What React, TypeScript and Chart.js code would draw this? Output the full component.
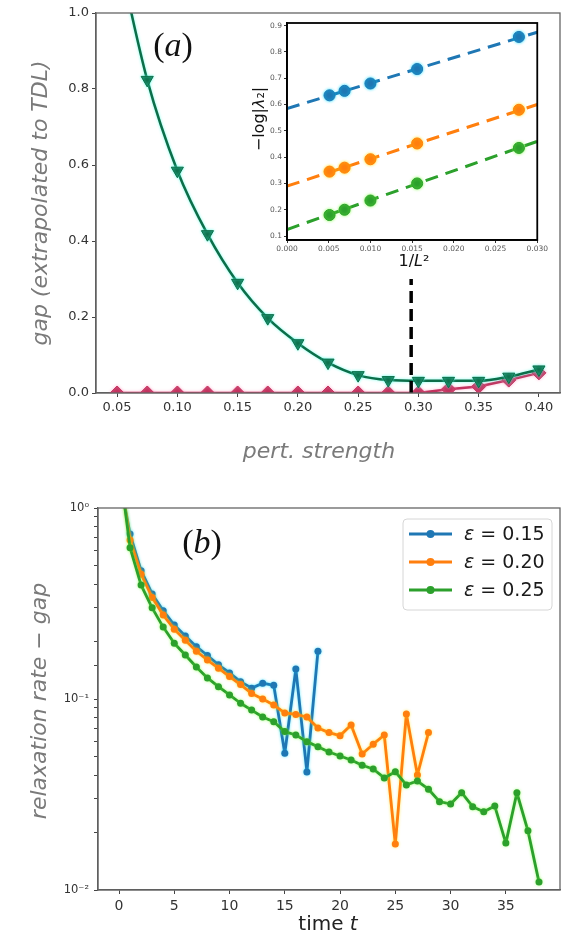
import React, { useEffect, useRef } from 'react';
import { Chart, registerables } from 'chart.js';

Chart.register(...registerables);

// ---------------- Panel (a) data ----------------
const pertStrength = [0.05, 0.075, 0.1, 0.125, 0.15, 0.175, 0.2, 0.225, 0.25, 0.275, 0.3, 0.325, 0.35, 0.375, 0.4];
const gapTriangles = [1.17, 0.824, 0.585, 0.418, 0.29, 0.197, 0.131, 0.08, 0.047, 0.034, 0.032, 0.032, 0.032, 0.043, 0.062];
const gapDiamonds = [0, 0, 0, 0, 0, 0, 0, 0, 0, 0, 0, 0.01, 0.017, 0.034, 0.053];
const criticalX = [0.294, 0.294];
const criticalY = [0, 0.3];

// ---------------- Inset data ----------------
const invL2 = [0.0051, 0.0069, 0.01, 0.0156, 0.0278];
const insetBlue = [0.635, 0.652, 0.68, 0.735, 0.857];
const insetOrange = [0.345, 0.36, 0.392, 0.452, 0.58];
const insetGreen = [0.18, 0.2, 0.235, 0.3, 0.435];
const fitX = [0, 0.03];
const fitBlue = [0.585, 0.875];
const fitOrange = [0.29, 0.6];
const fitGreen = [0.125, 0.46];

// ---------------- Panel (b) data ----------------
const timeSteps = [0, 1, 2, 3, 4, 5, 6, 7, 8, 9, 10, 11, 12, 13, 14, 15, 16, 17, 18, 19, 20, 21, 22, 23, 24, 25, 26, 27, 28, 29, 30, 31, 32, 33, 34, 35, 36, 37, 38];
const eps015 = [1.5, 0.73, 0.47, 0.355, 0.29, 0.244, 0.214, 0.188, 0.169, 0.151, 0.137, 0.123, 0.114, 0.121, 0.118, 0.052, 0.1435, 0.0415, 0.178];
const eps020 = [1.6, 0.68, 0.45, 0.34, 0.275, 0.232, 0.203, 0.178, 0.16, 0.145, 0.131, 0.119, 0.107, 0.1, 0.093, 0.0845, 0.083, 0.0805, 0.0705, 0.0667, 0.0643, 0.073, 0.0515, 0.058, 0.0648, 0.0174, 0.0835, 0.04, 0.0667];
const eps025 = [1.75, 0.62, 0.395, 0.3, 0.238, 0.196, 0.17, 0.147, 0.129, 0.116, 0.105, 0.095, 0.0875, 0.0805, 0.076, 0.0675, 0.0648, 0.0598, 0.0563, 0.0528, 0.0503, 0.0479, 0.045, 0.043, 0.0386, 0.0416, 0.0355, 0.0372, 0.0337, 0.029, 0.0282, 0.0323, 0.0273, 0.0257, 0.0275, 0.0176, 0.0323, 0.0204, 0.011];
const legendLabels = ['ε = 0.15', 'ε = 0.20', 'ε = 0.25'];
const logTickLabels: Record<string, string> = { '0': '10⁰', '-1': '10⁻¹', '-2': '10⁻²' };

// ---------------- styling ----------------
const SANS = '"DejaVu Sans", sans-serif';
const SERIF = '"Liberation Serif", "DejaVu Serif", serif';
const GREEN_A = '#0c6e49';
const PINK_A = '#c2335f';
const BLUE = '#1f77b4';
const ORANGE = '#ff7f0e';
const GREEN = '#2ca02c';

const toXY = (xs: number[], ys: number[]) => ys.map((y, i) => ({ x: xs[i], y }));

type Part = { text: string; font: string };
type TextItem = { parts: Part[]; x: number; y: number; rot?: number; color: string };

const textPlugin = (id: string, items: TextItem[]) => ({
  id,
  afterDraw(chart: any) {
    const ctx = chart.ctx as CanvasRenderingContext2D;
    items.forEach((it) => {
      ctx.save();
      ctx.translate(it.x, it.y);
      if (it.rot) ctx.rotate(it.rot);
      ctx.fillStyle = it.color;
      ctx.textBaseline = 'middle';
      ctx.textAlign = 'left';
      let total = 0;
      const widths = it.parts.map((p) => {
        ctx.font = p.font;
        const w = ctx.measureText(p.text).width;
        total += w;
        return w;
      });
      let cx = -total / 2;
      it.parts.forEach((p, i) => {
        ctx.font = p.font;
        ctx.fillText(p.text, cx, 0);
        cx += widths[i];
      });
      ctx.restore();
    });
  },
});

const framePlugin = (id: string, color: string, width: number) => ({
  id,
  afterDatasetsDraw(chart: any) {
    const { ctx, chartArea } = chart;
    ctx.save();
    ctx.strokeStyle = color;
    ctx.lineWidth = width;
    ctx.strokeRect(chartArea.left, chartArea.top, chartArea.right - chartArea.left, chartArea.bottom - chartArea.top);
    ctx.restore();
  },
});

const glowPlugin = {
  id: 'glow',
  beforeDatasetDraw(chart: any, args: any) {
    const ds = chart.data.datasets[args.index];
    chart.ctx.save();
    if (ds.glow) {
      chart.ctx.shadowColor = ds.glow;
      chart.ctx.shadowBlur = 3;
    }
  },
  afterDatasetDraw(chart: any) {
    chart.ctx.restore();
  },
};

const legendPlugin = {
  id: 'boxLegend',
  afterDatasetsDraw(chart: any) {
    const { ctx, chartArea } = chart;
    const w = 149;
    const h = 91;
    const x0 = chartArea.right - 8 - w;
    const y0 = chartArea.top + 11;
    ctx.save();
    ctx.beginPath();
    ctx.roundRect(x0, y0, w, h, 4);
    ctx.fillStyle = 'rgba(255,255,255,0.85)';
    ctx.fill();
    ctx.strokeStyle = '#d6d6d6';
    ctx.lineWidth = 1;
    ctx.stroke();
    const ds = chart.data.datasets;
    ds.forEach((d: any, i: number) => {
      const cy = y0 + 15 + i * 28;
      ctx.strokeStyle = d.borderColor;
      ctx.lineWidth = 3;
      ctx.beginPath();
      ctx.moveTo(x0 + 6, cy);
      ctx.lineTo(x0 + 49, cy);
      ctx.stroke();
      ctx.fillStyle = d.borderColor;
      ctx.beginPath();
      ctx.arc(x0 + 27.5, cy, 4, 0, Math.PI * 2);
      ctx.fill();
      ctx.fillStyle = '#1a1a1a';
      ctx.textBaseline = 'middle';
      ctx.textAlign = 'left';
      const label: string = d.label;
      ctx.font = `italic 19px ${SANS}`;
      ctx.fillText(label[0], x0 + 61, cy + 1);
      const w0 = ctx.measureText(label[0]).width;
      ctx.font = `19px ${SANS}`;
      ctx.fillText(label.slice(1), x0 + 61 + w0, cy + 1);
    });
    ctx.restore();
  },
};

const axisTick = (size: number, color: string, padding: number) => ({
  font: { family: SANS, size },
  color,
  padding,
  maxRotation: 0,
  autoSkip: false,
});

export default function App() {
  const refA = useRef<HTMLCanvasElement>(null);
  const refInset = useRef<HTMLCanvasElement>(null);
  const refB = useRef<HTMLCanvasElement>(null);

  useEffect(() => {
    const charts: Chart[] = [];

    // ---------- Panel (a) ----------
    charts.push(
      new Chart(refA.current!, {
        type: 'line',
        data: {
          datasets: [
            {
              label: 'critical',
              data: toXY(criticalX, criticalY),
              borderColor: '#000',
              borderWidth: 3.5,
              borderDash: [12, 6],
              pointRadius: 0,
              order: 0,
              clip: 0,
            } as any,
            {
              label: 'gap',
              data: toXY(pertStrength, gapTriangles),
              borderColor: GREEN_A,
              backgroundColor: GREEN_A,
              borderWidth: 2.5,
              borderJoinStyle: 'round',
              pointStyle: 'triangle',
              pointRotation: 180,
              pointRadius: 7,
              pointBorderWidth: 1,
              cubicInterpolationMode: 'monotone',
              order: 1,
              clip: 0,
              glow: 'rgba(80,255,230,0.75)',
            } as any,
            {
              label: 'gap2',
              data: toXY(pertStrength, gapDiamonds),
              borderColor: PINK_A,
              backgroundColor: PINK_A,
              borderWidth: 2.5,
              borderJoinStyle: 'round',
              pointStyle: 'rectRot',
              pointRadius: 7,
              pointBorderWidth: 1,
              order: 2,
              clip: 0,
              glow: 'rgba(255,150,190,0.7)',
            } as any,
          ],
        },
        options: {
          animation: false,
          responsive: false,
          layout: { padding: { top: 13, right: 6, left: 0, bottom: 0 } },
          plugins: { legend: { display: false }, tooltip: { enabled: false } },
          scales: {
            x: {
              type: 'linear',
              min: 0.0325,
              max: 0.4175,
              ticks: { ...axisTick(13, '#333', 3), stepSize: 0.05, includeBounds: false, callback: (v: any) => Number(v).toFixed(2) },
              grid: { drawOnChartArea: false, tickLength: 4, color: '#444' },
              border: { color: '#555', width: 1.3 },
              afterFit: (s: any) => { s.height = 77; },
            },
            y: {
              min: 0,
              max: 1,
              ticks: { ...axisTick(13, '#333', 3), stepSize: 0.2, callback: (v: any) => Number(v).toFixed(1) },
              grid: { drawOnChartArea: false, tickLength: 4, color: '#444' },
              border: { color: '#555', width: 1.3 },
              afterFit: (s: any) => { s.width = 96; },
            },
          } as any,
        },
        plugins: [
          glowPlugin,
          framePlugin('frameA', '#666', 1.3),
          textPlugin('textA', [
            { parts: [{ text: 'gap (extrapolated to TDL)', font: `italic 22px ${SANS}` }], x: 41, y: 203, rot: -Math.PI / 2, color: '#7a7a7a' },
            { parts: [{ text: 'pert. strength', font: `italic 22px ${SANS}` }], x: 319, y: 452, color: '#7a7a7a' },
            {
              parts: [
                { text: '(', font: `34px ${SERIF}` },
                { text: 'a', font: `italic 34px ${SERIF}` },
                { text: ')', font: `34px ${SERIF}` },
              ],
              x: 173,
              y: 47,
              color: '#111',
            },
          ]),
        ],
      } as any)
    );

    // ---------- Inset ----------
    const fitDs = (ys: number[], color: string) => ({
      label: 'fit',
      data: toXY(fitX, ys),
      borderColor: color,
      borderWidth: 3,
      borderDash: [13, 8],
      pointRadius: 0,
      order: 2,
      clip: 0,
    });
    const ptDs = (ys: number[], color: string, glow: string) => ({
      label: 'pts',
      data: toXY(invL2, ys),
      showLine: false,
      borderColor: color,
      backgroundColor: color,
      pointRadius: 5.5,
      pointBorderWidth: 1,
      order: 1,
      glow,
    });
    charts.push(
      new Chart(refInset.current!, {
        type: 'line',
        data: {
          datasets: [
            fitDs(fitBlue, BLUE),
            fitDs(fitOrange, ORANGE),
            fitDs(fitGreen, GREEN),
            ptDs(insetBlue, BLUE, 'rgba(0,220,255,0.8)'),
            ptDs(insetOrange, ORANGE, 'rgba(255,220,0,0.8)'),
            ptDs(insetGreen, GREEN, 'rgba(120,255,60,0.8)'),
          ] as any,
        },
        options: {
          animation: false,
          responsive: false,
          layout: { padding: { top: 11, right: 7, left: 0, bottom: 0 } },
          plugins: { legend: { display: false }, tooltip: { enabled: false } },
          scales: {
            x: {
              type: 'linear',
              min: 0,
              max: 0.03,
              ticks: { ...axisTick(7.5, '#555', 2), stepSize: 0.005, callback: (v: any) => Number(v).toFixed(3) },
              grid: { drawOnChartArea: false, tickLength: 3, color: '#333' },
              border: { color: '#000', width: 1.8 },
              afterFit: (s: any) => { s.height = 34; },
            },
            y: {
              min: 0.085,
              max: 0.91,
              ticks: { ...axisTick(7.5, '#555', 2), stepSize: 0.1, includeBounds: false, callback: (v: any) => Number(v).toFixed(1) },
              grid: { drawOnChartArea: false, tickLength: 3, color: '#333' },
              border: { color: '#000', width: 1.8 },
              afterFit: (s: any) => { s.width = 42; },
            },
          } as any,
        },
        plugins: [
          glowPlugin,
          framePlugin('frameInset', '#000', 1.8),
          textPlugin('textInset', [
            {
              parts: [
                { text: '−log|', font: `16px ${SANS}` },
                { text: 'λ', font: `italic 16px ${SANS}` },
                { text: '₂|', font: `16px ${SANS}` },
              ],
              x: 15,
              y: 107,
              rot: -Math.PI / 2,
              color: '#111',
            },
            {
              parts: [
                { text: '1/', font: `16px ${SANS}` },
                { text: 'L', font: `italic 16px ${SANS}` },
                { text: '²', font: `16px ${SANS}` },
              ],
              x: 169,
              y: 250,
              color: '#111',
            },
          ]),
        ],
      } as any)
    );

    // ---------- Panel (b) ----------
    const relDs = (ys: number[], color: string, label: string, order: number, glow: string) => ({
      label,
      data: toXY(timeSteps, ys),
      borderColor: color,
      backgroundColor: color,
      borderWidth: 2.8,
      borderJoinStyle: 'round',
      pointRadius: 3.5,
      pointBorderWidth: 0,
      order,
      clip: 0,
      glow,
    });
    charts.push(
      new Chart(refB.current!, {
        type: 'line',
        data: {
          datasets: [
            relDs(eps015, BLUE, legendLabels[0], 3, 'rgba(0,220,255,0.6)'),
            relDs(eps020, ORANGE, legendLabels[1], 2, 'rgba(255,220,0,0.6)'),
            relDs(eps025, GREEN, legendLabels[2], 1, 'rgba(120,255,60,0.6)'),
          ] as any,
        },
        options: {
          animation: false,
          responsive: false,
          layout: { padding: { top: 38, right: 8, left: 0, bottom: 0 } },
          plugins: { legend: { display: false }, tooltip: { enabled: false } },
          scales: {
            x: {
              type: 'linear',
              min: -1.9,
              max: 39.9,
              ticks: { ...axisTick(14, '#333', 4), stepSize: 5, includeBounds: false, callback: (v: any) => String(Math.round(Number(v))) },
              grid: { drawOnChartArea: false, tickLength: 4, color: '#444' },
              border: { color: '#555', width: 1.3 },
              afterFit: (s: any) => { s.height = 45; },
            },
            y: {
              type: 'logarithmic',
              min: 0.01,
              max: 1,
              ticks: {
                ...axisTick(11.5, '#333', 5),
                callback: (v: any) => {
                  const l = Math.log10(Number(v));
                  const r = Math.round(l);
                  return Math.abs(l - r) < 1e-6 ? logTickLabels[String(r)] ?? '' : '';
                },
              },
              grid: { drawOnChartArea: false, tickLength: 4, color: '#444' },
              border: { color: '#555', width: 1.3 },
              afterFit: (s: any) => { s.width = 98; },
            },
          } as any,
        },
        plugins: [
          glowPlugin,
          framePlugin('frameB', '#666', 1.3),
          legendPlugin,
          textPlugin('textB', [
            { parts: [{ text: 'relaxation rate − gap', font: `italic 22px ${SANS}` }], x: 40, y: 231, rot: -Math.PI / 2, color: '#7a7a7a' },
            {
              parts: [
                { text: 'time ', font: `20px ${SANS}` },
                { text: 't', font: `italic 20px ${SANS}` },
              ],
              x: 328,
              y: 455,
              color: '#222',
            },
            {
              parts: [
                { text: '(', font: `34px ${SERIF}` },
                { text: 'b', font: `italic 34px ${SERIF}` },
                { text: ')', font: `34px ${SERIF}` },
              ],
              x: 202,
              y: 74,
              color: '#111',
            },
          ]),
        ],
      } as any)
    );

    return () => charts.forEach((c) => c.destroy());
  }, []);

  return (
    <div style={{ position: 'absolute', left: 0, top: 0, width: 568, height: 935, background: '#fff', overflow: 'hidden' }}>
      <canvas ref={refA} width={568} height={470} style={{ position: 'absolute', left: 0, top: 0, width: 568, height: 470 }} />
      <canvas ref={refInset} width={305} height={262} style={{ position: 'absolute', left: 245, top: 12, width: 305, height: 262 }} />
      <canvas ref={refB} width={568} height={465} style={{ position: 'absolute', left: 0, top: 470, width: 568, height: 465 }} />
    </div>
  );
}
